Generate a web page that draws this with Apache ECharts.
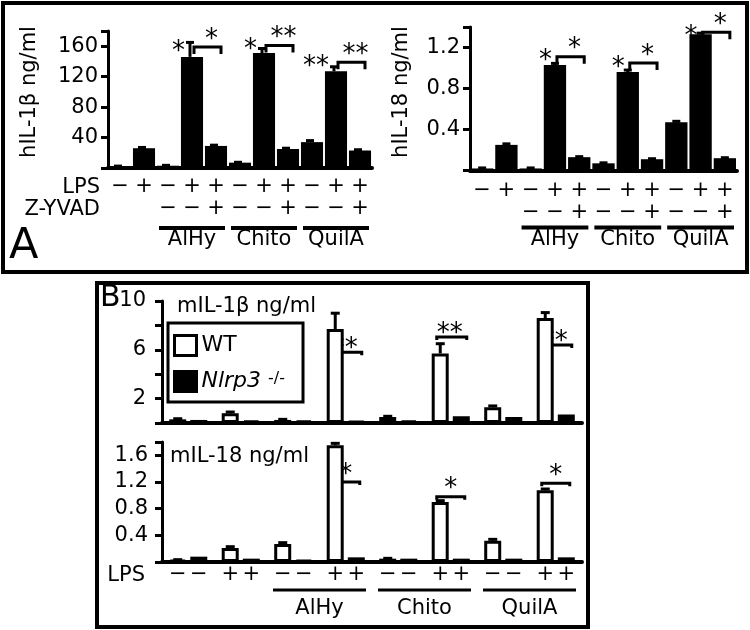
<!DOCTYPE html>
<html>
<head>
<meta charset="utf-8">
<script src="https://cdn.jsdelivr.net/npm/echarts@6/dist/echarts.min.js"></script>
<style>
  html, body { margin: 0; padding: 0; background: #fff; }
  #main { width: 750px; height: 630px; }
</style>
</head>
<body>
<div id="main"></div>
<script>
var FONT = 'DejaVu Sans'

// ---- panel A: human cells, 11 conditions ----
var aLps = ['−', '+', '−', '+', '+', '−', '+', '+', '−', '+', '+']
var aZyvad = ['', '', '−', '−', '+', '−', '−', '+', '−', '−', '+']
var aGroups = [[2, 4], [5, 7], [8, 10]]
var groupNames = ['AlHy', 'Chito', 'QuilA']

var hIL1b = [2, 26, 3, 146, 29, 7, 151, 25, 34, 127, 23]
var hIL1bErr = [0.5, 1, 0.5, 19, 1, 0.5, 6, 1, 2, 6, 1]
var hIL18 = [0.02, 0.25, 0.02, 1.03, 0.13, 0.07, 0.96, 0.11, 0.47, 1.33, 0.12]
var hIL18Err = [0.005, 0.01, 0.005, 0.015, 0.005, 0.005, 0.02, 0.005, 0.01, 0.01, 0.005]

// significance brackets: [bar index, bracket height]
var hIL1bSig = [[3, 159], [6, 161], [9, 139]]
var hIL1bSide = ['*', '*', '**']
var hIL1bTop = ['*', '**', '**']
var hIL18Sig = [[3, 1.11], [6, 1.05], [9, 1.35]]
var hIL18Side = ['*', '*', '*']
var hIL18Top = ['*', '*', '*']

// ---- panel B: mouse cells, WT vs Nlrp3-/- ----
var bLps = ['−', '+', '−', '+', '−', '+', '−', '+']
var bGroups = [[2, 3], [4, 5], [6, 7]]

var mIL1bWT = [0.3, 0.8, 0.25, 7.7, 0.5, 5.7, 1.3, 8.6]
var mIL1bWTErr = [0.05, 0.1, 0.05, 1.3, 0.05, 0.8, 0.1, 0.45]
var mIL1bKO = [0.25, 0.2, 0.2, 0.15, 0.2, 0.55, 0.5, 0.7]
var mIL18WT = [0.03, 0.21, 0.27, 1.75, 0.05, 0.9, 0.32, 1.075]
var mIL18WTErr = [0.005, 0.02, 0.02, 0.03, 0.005, 0.02, 0.02, 0.02]
var mIL18KO = [0.08, 0.05, 0.03, 0.07, 0.05, 0.05, 0.05, 0.07]

var mIL1bSig = [[3, 5.8], [5, 7.05], [7, 6.4]]
var mIL1bTop = ['**', '**', '**']
var mIL18Sig = [[3, 1.2], [5, 0.98], [7, 1.18]]
var mIL18Top = ['*', '*', '*']

function cats(arr) {
  return arr.map(function(_, i) { return 'c' + i })
}

function errData(vals, errs) {
  return vals.map(function(v, i) { return [i, v, errs[i]] })
}

// error bar: vertical line from bar top plus a cap
function errRender(dx, cap) {
  return function(params, api) {
    var top = api.coord([api.value(0), api.value(1) + api.value(2)])
    var bot = api.coord([api.value(0), api.value(1)])
    var x = top[0] + dx
    return {
      type: 'group',
      children: [
        { type: 'line', shape: { x1: x, y1: bot[1], x2: x, y2: top[1] }, style: { stroke: '#000', lineWidth: 3 } },
        { type: 'line', shape: { x1: x - cap / 2, y1: top[1], x2: x + cap / 2, y2: top[1] }, style: { stroke: '#000', lineWidth: 3 } }
      ]
    }
  }
}

function starText(text, x, y, align) {
  return {
    type: 'text',
    style: { text: text, x: x, y: y, align: align, verticalAlign: 'middle', fontSize: 26, fontFamily: FONT, fill: '#000' }
  }
}

// bracket with stars above, optional star left of the bar
function sigRender(c) {
  return function(params, api) {
    var p = api.coord([api.value(0), api.value(1)])
    var bw = api.size([1, 0])[0]
    var x1 = p[0] + c.from[0] * bw + c.from[1]
    var x2 = p[0] + c.to[0] * bw + c.to[1]
    var y = p[1]
    var kids = [{
      type: 'polyline',
      shape: { points: [[x1, y + c.drop], [x1, y], [x2, y], [x2, y + c.drop]] },
      style: { stroke: '#000', lineWidth: 3, fill: null }
    }]
    kids.push(starText(c.top[params.dataIndex], (x1 + x2) / 2 + c.starDx, y + c.starDy, 'center'))
    if (c.side) {
      kids.push(starText(c.side[params.dataIndex], p[0] + c.sideDx, y + c.sideDy, 'right'))
    }
    return { type: 'group', children: kids }
  }
}

// underline + treatment name below the axis
function groupRender(g) {
  return function(params, api) {
    var a = api.coord([api.value(0), 0])
    var b = api.coord([api.value(1), 0])
    var bw = api.size([1, 0])[0]
    var x1 = a[0] - bw / 2 + g.inset
    var x2 = b[0] + bw / 2 - g.inset
    var y = a[1] + g.lineDy
    return {
      type: 'group',
      children: [
        { type: 'line', shape: { x1: x1, y1: y, x2: x2, y2: y }, style: { stroke: '#000', lineWidth: g.lw } },
        {
          type: 'text',
          style: {
            text: groupNames[params.dataIndex], x: (x1 + x2) / 2, y: a[1] + g.textDy,
            align: 'center', verticalAlign: 'middle', fontSize: 21, fontFamily: FONT, fill: '#000'
          }
        }
      ]
    }
  }
}

function yAx(grid, max, interval, show, margin) {
  return {
    gridIndex: grid,
    type: 'value',
    min: 0,
    max: max,
    interval: interval,
    axisLine: { show: true, lineStyle: { color: '#000', width: 3 } },
    axisTick: { show: true, length: 7, lineStyle: { color: '#000', width: 3 } },
    splitLine: { show: false },
    axisLabel: {
      color: '#000', fontSize: 21, margin: margin,
      formatter: function(v) {
        var s = +v.toFixed(2)
        return show.indexOf(s) > -1 ? String(s) : ''
      }
    }
  }
}

var axisLineX = { show: true, lineStyle: { color: '#000', width: 4 } }

var chart = echarts.init(document.getElementById('main'))

var option = {
  animation: false,
  textStyle: { fontFamily: FONT, color: '#000' },
  grid: [
    { left: 108, top: 31, width: 264, height: 137 },
    { left: 470, top: 27, width: 267, height: 143.5 },
    { left: 162, top: 301, width: 420, height: 122 },
    { left: 162, top: 442, width: 420, height: 120 }
  ],
  xAxis: [
    {
      gridIndex: 0, type: 'category', data: cats(aLps), axisLine: axisLineX, axisTick: { show: false },
      axisLabel: {
        color: '#000', fontSize: 21, lineHeight: 22, margin: 8, interval: 0,
        formatter: function(v, i) { return aLps[i] + '\n' + (aZyvad[i] || ' ') }
      }
    },
    {
      gridIndex: 1, type: 'category', data: cats(aLps), axisLine: axisLineX, axisTick: { show: false },
      axisLabel: {
        color: '#000', fontSize: 21, lineHeight: 22, margin: 9, interval: 0,
        formatter: function(v, i) { return aLps[i] + '\n' + (aZyvad[i] || ' ') }
      }
    },
    {
      gridIndex: 2, type: 'category', data: cats(bLps), axisLine: axisLineX, axisTick: { show: false },
      axisLabel: { show: false }
    },
    {
      gridIndex: 3, type: 'category', data: cats(bLps), axisLine: axisLineX, axisTick: { show: false },
      axisLabel: {
        color: '#000', margin: 2, interval: 0,
        formatter: function(v, i) { return '{s|' + bLps[i] + '}{s|' + bLps[i] + '}' },
        rich: { s: { width: 21, align: 'center', fontSize: 21, lineHeight: 22 } }
      }
    }
  ],
  yAxis: [
    yAx(0, 180, 40, [40, 80, 120, 160], 10),
    yAx(1, 1.4, 0.4, [0.4, 0.8, 1.2], 10),
    yAx(2, 10, 2, [2, 6, 10], 16),
    yAx(3, 1.8, 0.4, [0.4, 0.8, 1.2, 1.6], 14)
  ],
  legend: {
    left: 168, top: 323, orient: 'vertical',
    padding: [11, 18, 9, 5], itemGap: 13, itemWidth: 22, itemHeight: 20,
    borderColor: '#000', borderWidth: 3, selectedMode: false, icon: 'rect',
    itemStyle: { borderColor: '#000', borderWidth: 3 },
    data: [
      { name: 'WT', itemStyle: { color: '#fff' } },
      { name: 'Nlrp3', itemStyle: { color: '#000' } }
    ],
    formatter: function(name) {
      return name === 'Nlrp3' ? '{i|Nlrp3}{s|-/-}' : '{n|WT}'
    },
    textStyle: {
      color: '#000',
      rich: {
        n: { fontSize: 22, lineHeight: 22, fontFamily: FONT },
        i: { fontSize: 22, lineHeight: 22, fontFamily: FONT, fontStyle: 'italic' },
        s: { fontSize: 16, lineHeight: 14, fontFamily: FONT, verticalAlign: 'top', padding: [0, 0, 0, 7] }
      }
    }
  },
  series: [
    // A left
    { type: 'bar', xAxisIndex: 0, yAxisIndex: 0, data: hIL1b, barCategoryGap: '8%', itemStyle: { color: '#000' } },
    { type: 'custom', xAxisIndex: 0, yAxisIndex: 0, data: errData(hIL1b, hIL1bErr), encode: { x: 0, y: 1 }, renderItem: errRender(-2, 8) },
    {
      type: 'custom', xAxisIndex: 0, yAxisIndex: 0, data: hIL1bSig, encode: { x: 0, y: 1 },
      renderItem: sigRender({ from: [0, 2], to: [1, 5], drop: 7, top: hIL1bTop, side: hIL1bSide, starDx: 4, starDy: -7, sideDx: -7, sideDy: 5 })
    },
    { type: 'custom', xAxisIndex: 0, yAxisIndex: 0, data: aGroups, encode: { x: 0, y: 1 }, renderItem: groupRender({ inset: 3, lineDy: 60, textDy: 72, lw: 4 }) },
    // A right
    { type: 'bar', xAxisIndex: 1, yAxisIndex: 1, data: hIL18, barCategoryGap: '8%', itemStyle: { color: '#000' } },
    { type: 'custom', xAxisIndex: 1, yAxisIndex: 1, data: errData(hIL18, hIL18Err), encode: { x: 0, y: 1 }, renderItem: errRender(0, 8) },
    {
      type: 'custom', xAxisIndex: 1, yAxisIndex: 1, data: hIL18Sig, encode: { x: 0, y: 1 },
      renderItem: sigRender({ from: [0, 2], to: [1, 5], drop: 7, top: hIL18Top, side: hIL18Side, starDx: 4, starDy: -7, sideDx: -3, sideDy: 5 })
    },
    { type: 'custom', xAxisIndex: 1, yAxisIndex: 1, data: aGroups, encode: { x: 0, y: 1 }, renderItem: groupRender({ inset: 3, lineDy: 57, textDy: 69, lw: 4 }) },
    // B top
    {
      name: 'WT', type: 'bar', xAxisIndex: 2, yAxisIndex: 2, data: mIL1bWT, barWidth: 17, barGap: '24%',
      itemStyle: { color: '#fff', borderColor: '#000', borderWidth: 3 }
    },
    {
      name: 'Nlrp3', type: 'bar', xAxisIndex: 2, yAxisIndex: 2, data: mIL1bKO, barWidth: 17, barGap: '24%',
      itemStyle: { color: '#000', borderColor: '#000', borderWidth: 3 }
    },
    { type: 'custom', xAxisIndex: 2, yAxisIndex: 2, data: errData(mIL1bWT, mIL1bWTErr), encode: { x: 0, y: 1 }, renderItem: errRender(-10.5, 9) },
    {
      type: 'custom', xAxisIndex: 2, yAxisIndex: 2, data: mIL1bSig, encode: { x: 0, y: 1 },
      renderItem: sigRender({ from: [0, -14], to: [0, 16], drop: 3, top: mIL1bTop, starDx: -2, starDy: -3 })
    },
    // B bottom
    {
      name: 'WT', type: 'bar', xAxisIndex: 3, yAxisIndex: 3, data: mIL18WT, barWidth: 17, barGap: '24%',
      itemStyle: { color: '#fff', borderColor: '#000', borderWidth: 3 }
    },
    {
      name: 'Nlrp3', type: 'bar', xAxisIndex: 3, yAxisIndex: 3, data: mIL18KO, barWidth: 17, barGap: '24%',
      itemStyle: { color: '#000', borderColor: '#000', borderWidth: 3 }
    },
    { type: 'custom', xAxisIndex: 3, yAxisIndex: 3, data: errData(mIL18WT, mIL18WTErr), encode: { x: 0, y: 1 }, renderItem: errRender(-10.5, 9) },
    {
      type: 'custom', xAxisIndex: 3, yAxisIndex: 3, data: mIL18Sig, encode: { x: 0, y: 1 },
      renderItem: sigRender({ from: [0, -14], to: [0, 14], drop: 3, top: mIL18Top, starDx: 0, starDy: -7 })
    },
    { type: 'custom', xAxisIndex: 3, yAxisIndex: 3, data: bGroups, encode: { x: 0, y: 1 }, renderItem: groupRender({ inset: 6, lineDy: 28, textDy: 47, lw: 3 }) }
  ],
  graphic: [
    { type: 'rect', shape: { x: 3, y: 3, width: 744, height: 269 }, style: { fill: null, stroke: '#000', lineWidth: 4 } },
    { type: 'rect', shape: { x: 97, y: 283, width: 491, height: 344 }, style: { fill: null, stroke: '#000', lineWidth: 4 } },
    { type: 'text', x: 9, y: 247, style: { text: 'A', fontSize: 43, fontFamily: FONT, fill: '#000', verticalAlign: 'middle' } },
    { type: 'text', x: 100, y: 188, style: { text: 'LPS', fontSize: 21, fontFamily: FONT, fill: '#000', align: 'right', verticalAlign: 'middle' } },
    { type: 'text', x: 100, y: 210, style: { text: 'Z-YVAD', fontSize: 21, fontFamily: FONT, fill: '#000', align: 'right', verticalAlign: 'middle' } },
    { type: 'text', x: 30, y: 92, rotation: Math.PI / 2, style: { text: 'hIL-1β ng/ml', fontSize: 21, fontFamily: FONT, fill: '#000', align: 'center', verticalAlign: 'middle' } },
    { type: 'text', x: 402, y: 92, rotation: Math.PI / 2, style: { text: 'hIL-18 ng/ml', fontSize: 21, fontFamily: FONT, fill: '#000', align: 'center', verticalAlign: 'middle' } },
    { type: 'text', x: 100, y: 298, style: { text: 'B', fontSize: 30, fontFamily: FONT, fill: '#000', verticalAlign: 'middle' } },
    { type: 'text', x: 177, y: 307, style: { text: 'mIL-1β ng/ml', fontSize: 21, fontFamily: FONT, fill: '#000', verticalAlign: 'middle' } },
    { type: 'text', x: 170, y: 457, style: { text: 'mIL-18 ng/ml', fontSize: 21, fontFamily: FONT, fill: '#000', verticalAlign: 'middle' } },
    { type: 'text', x: 145, y: 576, style: { text: 'LPS', fontSize: 21, fontFamily: FONT, fill: '#000', align: 'right', verticalAlign: 'middle' } }
  ]
}

chart.setOption(option)
</script>
</body>
</html>
